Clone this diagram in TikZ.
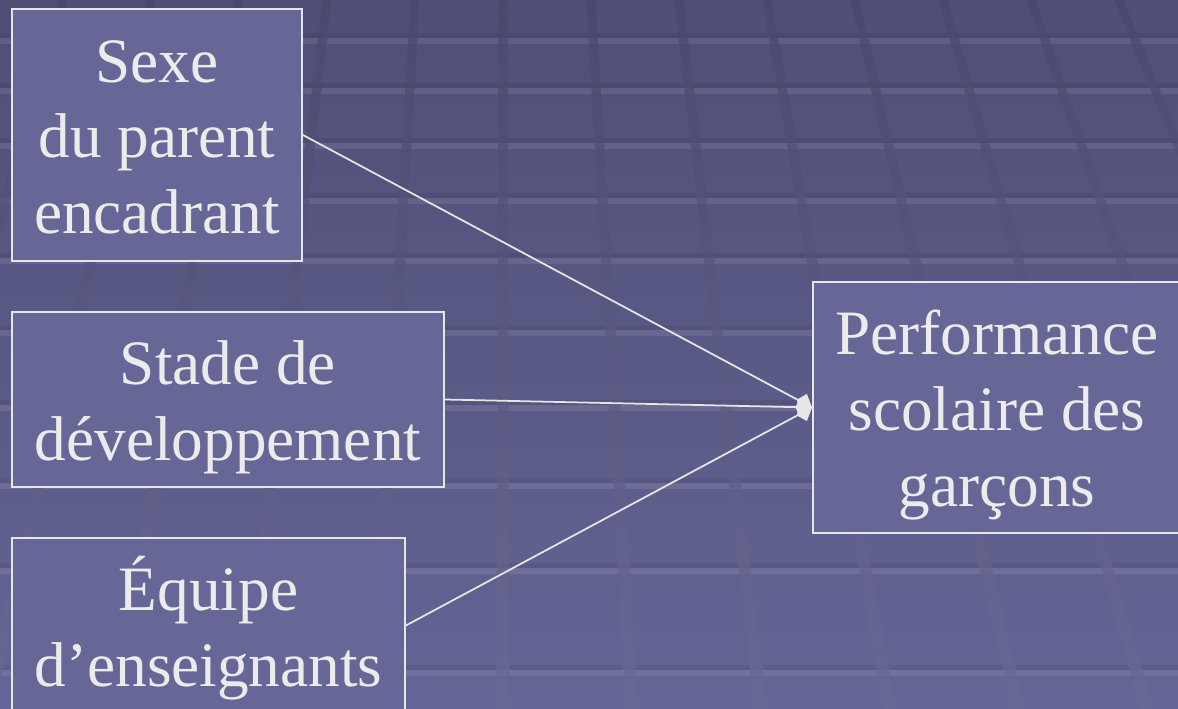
\documentclass[tikz,border=0pt]{standalone}
\usepackage{fontspec}
\setmainfont{Liberation Serif}
\usetikzlibrary{arrows.meta}
\definecolor{bgtop}{HTML}{4E4E76}
\definecolor{bgbot}{HTML}{656596}
\definecolor{stripetop}{HTML}{48486E}
\definecolor{stripebot}{HTML}{6A6A95}
\definecolor{boxfill}{HTML}{676797}
\definecolor{boxline}{HTML}{E6E6E6}
\definecolor{txt}{HTML}{EBEBEB}
\newcommand{\topstrut}{\rule{0pt}{1.46cm}}
\newcommand{\botstrut}{\rule[-0.54cm]{0pt}{0.54cm}}
\tikzset{
  factor/.style={draw=boxline, line width=1.1pt, fill=boxfill, text=txt,
    align=center, inner xsep=0pt, inner ysep=0pt,
    font=\fontsize{36}{43.2}\selectfont},
  link/.style={draw=boxline, line width=1pt, -{Kite[length=0.34cm, width=0.38cm, inset=0.12cm]}}
}
\begin{document}
\begin{tikzpicture}[x=0.02cm, y=-0.02cm]
	\useasboundingbox (0,0) rectangle (1178,709);
	\clip (0,0) rectangle (1178,709);
	% Background
	\fill[top color=bgtop, bottom color=bgbot] (0,0) rectangle (1178,709);
	\foreach \y in {38,88,143,198,258,330,405,483,568,670} {
		\fill[black, opacity=0.07] (0,\y-5) rectangle (1178,\y);
		\fill[white, opacity=0.09] (0,\y) rectangle (1178,\y+6);
	}
	\foreach \k in {-6,...,9} {
		\shade[top color=stripetop, bottom color=stripebot, opacity=0.7]
			(503+88*\k-4.5,0) -- (503+88*\k+4.5,0)
			-- (503+128.9*\k+6.5,709) -- (503+128.9*\k-6.5,709) -- cycle;
	}
	% Nodes
	\node[factor, minimum width=5.8cm] (sexe) at (157,135)
		{\topstrut Sexe\\du parent\\encadrant\botstrut};
	\node[factor, minimum width=8.64cm] (stade) at (228,399.5)
		{\topstrut Stade de\\développement\botstrut};
	\node[factor, minimum width=7.86cm] (equipe) at (208.5,625.5)
		{\topstrut Équipe\\d’enseignants\botstrut};
	\node[factor, minimum width=7.36cm] (perf) at (997,407.5)
		{\topstrut Performance\\scolaire des \\garçons\botstrut};
	% Edges
	\draw[link] (sexe.east) -- (perf.west);
	\draw[link] (stade.east) -- (perf.west);
	\draw[link] (equipe.east) -- (perf.west);
\end{tikzpicture}
\end{document}
